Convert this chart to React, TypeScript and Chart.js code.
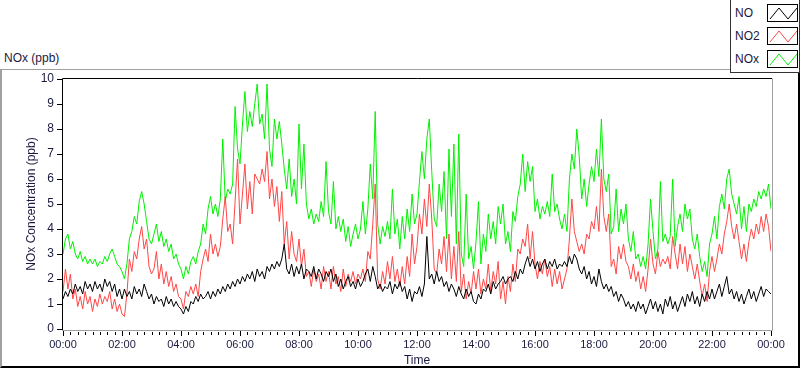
import React, { useEffect, useRef } from 'react';
import { Chart, registerables } from 'chart.js';

Chart.register(...registerables);

// time step between samples, minutes
const stepMinutes = 5;

const xTickLabels = ['00:00', '02:00', '04:00', '06:00', '08:00', '10:00', '12:00', '14:00', '16:00', '18:00', '20:00', '22:00', '00:00'];

const seriesNames = ['NO', 'NO2', 'NOx'];
const seriesColors = ['#000000', '#ff4646', '#00f000'];

// NO (ppb), one value every 5 minutes from 00:00 to 24:00 (one row per hour)
const noValues = [
  1.2, 1.5, 1.3, 1.6, 1.4, 1.8, 1.5, 1.7, 1.4, 1.9, 1.6, 1.8,
  1.5, 1.9, 1.6, 1.8, 1.5, 2.0, 1.7, 1.9, 1.5, 1.8, 1.3, 1.6,
  1.2, 1.6, 1.3, 1.5, 1.2, 1.7, 1.4, 1.6, 1.3, 1.8, 1.5, 1.2,
  1.4, 1.0, 1.3, 1.1, 1.2, 0.9, 1.3, 1.0, 1.2, 0.9, 1.1, 0.9,
  0.8, 0.6, 0.9, 0.7, 1.1, 1.0, 1.3, 1.1, 1.4, 1.2, 1.3, 1.5,
  1.2, 1.5, 1.3, 1.6, 1.4, 1.7, 1.5, 1.8, 1.6, 1.9, 1.7, 2.0,
  1.8, 2.1, 1.9, 2.2, 2.0, 2.3, 1.9, 2.4, 2.1, 2.3, 2.0, 2.5,
  2.3, 2.6, 2.4, 2.7, 2.5, 2.8, 3.4, 2.4, 2.2, 2.6, 2.1, 2.5,
  2.2, 2.6, 2.0, 2.4, 2.3, 2.1, 2.5, 2.0, 2.4, 2.2, 1.9, 2.3,
  2.1, 2.4, 1.9, 2.2, 1.7, 2.0, 1.6, 1.9, 2.1, 1.7, 1.9, 1.6,
  2.0, 1.7, 1.9, 2.2, 2.4, 1.9, 2.5, 2.1, 1.6, 1.8, 1.5, 1.7,
  1.6, 1.9, 1.4, 1.8, 1.6, 1.9, 1.5, 1.7, 1.2, 1.6, 1.1, 1.5,
  1.4, 1.7, 1.3, 1.8, 3.7, 2.0, 2.2, 1.8, 2.3, 1.9, 2.1, 1.7,
  1.9, 1.5, 1.8, 1.6, 1.3, 1.7, 1.4, 1.2, 1.6, 1.3, 1.5, 1.1,
  1.0, 1.4, 1.2, 1.6, 1.5, 1.8, 1.4, 1.9, 1.6, 1.8, 1.9, 2.1,
  1.8, 2.0, 2.1, 1.9, 2.3, 2.0, 2.4, 2.2, 2.6, 2.9, 2.5, 2.8,
  2.4, 2.7, 2.3, 2.6, 2.8, 2.4, 2.7, 2.5, 2.8, 2.4, 2.6, 2.5,
  2.7, 2.5, 2.9, 2.6, 3.0, 2.8, 2.4, 2.2, 2.5, 2.0, 2.3, 1.8,
  2.1, 1.7, 2.4, 1.9, 1.6, 1.8, 1.5, 1.7, 1.3, 1.5, 1.1, 1.4,
  1.2, 0.9, 1.1, 0.8, 1.0, 0.7, 1.1, 0.8, 1.0, 0.6, 0.9, 1.2,
  0.8, 1.1, 0.7, 1.0, 0.6, 1.2, 0.9, 1.3, 0.8, 1.1, 0.7, 1.0,
  1.3, 0.9, 1.4, 1.1, 1.5, 1.0, 1.3, 0.9, 1.4, 1.1, 1.5, 1.2,
  1.6, 1.2, 1.5, 1.8, 1.3, 1.7, 2.1, 1.4, 1.6, 1.2, 1.5, 1.1,
  1.4, 1.0, 1.3, 1.6, 1.2, 1.5, 1.1, 1.4, 1.7, 1.3, 1.6, 1.5,
  1.4,
];

// NO2 (ppb)
const no2Values = [
  1.5, 2.4, 1.6, 2.2, 1.2, 1.6, 0.9, 1.3, 0.8, 1.5, 1.0, 1.3,
  0.7, 1.2, 0.9, 1.4, 1.0, 1.3, 1.1, 1.5, 0.8, 1.2, 0.7, 1.0,
  0.6, 0.5, 1.4, 2.8, 2.3, 3.1, 2.8, 3.6, 4.1, 3.2, 3.6, 2.5,
  2.2, 2.4, 3.1, 2.0, 2.6, 1.8, 2.3, 1.7, 2.1, 1.5, 1.8, 1.3,
  1.2, 0.8, 1.5, 1.3, 1.7, 1.4, 1.8, 1.3, 2.3, 2.8, 3.2, 2.7,
  3.8, 3.0, 3.4, 2.9, 3.3, 4.4, 5.3, 3.9, 4.2, 3.4, 5.1, 6.8,
  4.2, 5.4, 6.6, 4.8, 5.9, 4.6, 6.2, 6.0, 5.8, 6.4, 5.9, 7.1,
  5.2, 6.0, 4.9, 5.7, 4.3, 5.5, 3.4, 4.3, 2.8, 3.9, 3.0, 2.7,
  3.6, 2.5, 3.2, 2.1, 2.3, 1.7, 2.4, 1.9, 2.2, 1.6, 2.5, 1.9,
  2.3, 1.6, 2.5, 1.8, 2.1, 1.5, 2.4, 1.7, 2.2, 1.9, 2.3, 1.8,
  2.2, 2.0, 2.4, 1.9, 3.1, 2.8, 4.2, 5.8, 2.0, 1.6, 2.3, 1.8,
  2.7, 2.0, 2.9, 1.9, 2.4, 1.7, 2.5, 1.8, 2.9, 2.1, 3.8, 2.6,
  3.3, 4.6, 3.8, 5.2, 4.1, 5.8, 4.4, 2.4, 2.2, 3.2, 2.6, 3.7,
  2.3, 3.8, 2.0, 3.3, 1.9, 3.9, 1.5, 2.2, 1.2, 1.9, 1.4, 2.3,
  1.6, 2.4, 1.4, 2.0, 1.6, 2.6, 1.5, 2.3, 1.8, 2.7, 1.2, 1.9,
  1.0, 2.1, 1.5, 2.6, 1.9, 3.2, 3.0, 3.6, 3.3, 4.2, 2.8, 3.9,
  2.6, 2.0, 2.7, 2.2, 2.8, 2.1, 2.5, 1.7, 2.4, 1.8, 2.3, 1.6,
  2.0, 2.4, 3.6, 5.2, 3.9, 3.5, 3.1, 3.4, 3.0, 3.8, 3.6, 4.3,
  4.0, 4.9, 3.9, 6.4, 4.5, 3.9, 4.6, 2.5, 2.8, 2.2, 3.3, 2.8,
  3.4, 2.7, 2.5, 2.0, 2.6, 1.9, 2.3, 1.6, 2.1, 1.5, 2.4, 3.6,
  2.6, 2.2, 3.1, 2.5, 2.8, 2.6, 2.9, 2.4, 3.7, 3.0, 2.4, 3.4,
  2.6, 3.3, 2.3, 3.0, 2.5, 2.0, 2.6, 1.9, 1.3, 1.8, 1.1, 2.3,
  2.9, 2.3, 2.8, 3.4, 3.0, 3.8, 4.3, 5.0, 4.1, 3.6, 4.2, 3.5,
  2.8, 3.4, 2.7, 3.5, 4.0, 3.6, 4.2, 3.8, 4.5, 3.9, 4.6, 4.1,
  3.1,
];

// NOx (ppb)
const noxValues = [
  3.0, 3.6, 3.8, 3.2, 3.5, 3.0, 2.8, 3.1, 2.7, 2.9, 2.6, 2.8,
  2.6, 2.8, 2.5, 2.7, 2.6, 2.9, 2.7, 3.0, 3.2, 2.9, 2.6, 2.5,
  2.3, 2.0, 2.6, 3.6, 3.9, 4.5, 4.2, 5.1, 5.5, 5.0, 4.3, 3.6,
  3.4, 3.8, 4.2, 3.5, 3.9, 3.3, 3.6, 3.1, 3.4, 2.8, 3.0, 2.6,
  2.4, 2.0, 2.5, 2.2, 2.7, 2.9, 2.6, 3.1, 3.4, 4.2, 3.8, 4.8,
  5.3, 4.6, 5.0, 4.5, 5.2, 7.6, 5.1, 5.6, 5.4, 5.8, 8.9, 7.2,
  6.6, 8.2, 9.5, 7.9, 8.7, 8.1, 9.0, 9.8, 8.2, 8.6, 7.6, 9.8,
  7.2, 6.5, 8.4, 7.6, 8.3, 7.4, 6.4, 5.6, 6.8, 5.3, 6.0, 5.0,
  8.2, 5.6, 7.4, 5.0, 4.4, 4.8, 4.2, 4.6, 4.3, 5.1, 4.5, 6.7,
  4.7, 4.2, 5.9, 4.0, 4.5, 3.9, 4.4, 3.5, 4.1, 3.3, 3.8, 4.2,
  3.6, 4.0, 5.1, 3.8, 4.8, 6.6, 5.2, 8.7, 4.2, 3.4, 4.1, 3.7,
  4.3, 3.6, 5.6, 3.8, 4.4, 3.2, 4.5, 3.6, 4.8, 3.9, 5.4, 4.2,
  4.6, 5.9, 7.1, 6.0, 7.6, 8.4, 6.3, 4.4, 4.1, 5.8, 4.7, 6.3,
  3.6, 7.2, 4.5, 7.4, 3.4, 7.8, 3.0, 2.5, 5.4, 2.8, 3.3, 2.4,
  3.5, 5.1, 2.6, 3.8, 3.1, 4.6, 3.6, 4.3, 3.4, 4.9, 4.2, 5.0,
  3.4, 3.9, 3.1, 4.7, 4.3, 5.3, 5.8, 7.0, 5.5, 6.7, 5.9, 6.5,
  4.7, 5.2, 4.4, 4.9, 4.6, 5.1, 4.5, 6.2, 4.7, 5.0, 4.4, 4.0,
  4.6, 3.9, 6.0, 7.0, 6.4, 8.0, 6.9, 5.2, 6.0, 4.9, 5.8, 6.5,
  5.9, 7.2, 6.1, 8.4, 6.0, 5.5, 6.2, 3.8, 4.1, 5.6, 3.9, 4.8,
  4.2, 5.0, 3.6, 3.1, 3.9, 2.8, 3.0, 2.5, 2.9, 2.4, 3.4, 5.2,
  3.9, 2.8, 3.2, 5.9, 3.5, 3.8, 3.4, 3.7, 6.0, 3.3, 4.1, 4.6,
  3.9, 5.0, 4.4, 4.8, 3.6, 3.2, 3.8, 2.9, 2.3, 2.7, 2.1, 3.4,
  3.8, 4.5, 3.6, 4.9, 5.4, 4.8, 6.0, 6.4, 5.4, 5.0, 4.6, 5.3,
  4.0, 4.9, 3.9, 5.0, 4.7, 5.2, 4.9, 5.5, 5.2, 5.6, 5.3, 5.8,
  4.8,
];

const seriesValues = [noValues, no2Values, noxValues];

const textColor = '#1a1a40';
const fontFamily = 'Liberation Sans, Arial, sans-serif';

const framePlugin = {
  id: 'labviewFrame',
  afterDraw(chart: any) {
    const { ctx, chartArea: a, scales } = chart;
    const x = scales.x;
    ctx.save();
    ctx.lineWidth = 1;
    // x-axis ticks: major every 2 h, minor every 15 min
    ctx.strokeStyle = '#000';
    for (let m = 0; m <= 1440; m += 15) {
      const px = Math.round(x.getPixelForValue(m)) + 0.5;
      const major = m % 120 === 0;
      ctx.beginPath();
      ctx.moveTo(px, a.bottom + (major ? 2 : 3));
      ctx.lineTo(px, a.bottom + (major ? 7 : 6));
      ctx.stroke();
    }
    // plot frame: dark top/left, grey bottom/right
    ctx.strokeStyle = '#000';
    ctx.beginPath();
    ctx.moveTo(a.left - 0.5, a.bottom + 1);
    ctx.lineTo(a.left - 0.5, a.top - 0.5);
    ctx.lineTo(a.right + 1, a.top - 0.5);
    ctx.stroke();
    ctx.strokeStyle = '#a0a0a0';
    ctx.beginPath();
    ctx.moveTo(a.right + 1.5, a.top - 0.5);
    ctx.lineTo(a.right + 1.5, a.bottom + 1.5);
    ctx.lineTo(a.left - 1, a.bottom + 1.5);
    ctx.stroke();
    ctx.restore();
  },
};

function LegendSample({ color }: { color: string }) {
  return (
    <svg width={31} height={18} style={{ display: 'block', border: '1px solid #000', boxSizing: 'border-box', background: '#fff' }}>
      <polyline points="2,14 11,3 20,14 29,3" fill="none" stroke={color} strokeWidth={1} />
    </svg>
  );
}

export default function App() {
  const canvasRef = useRef<HTMLCanvasElement | null>(null);

  useEffect(() => {
    const canvas = canvasRef.current;
    if (!canvas) return;
    const datasets = seriesNames.map((name, i) => ({
      label: name,
      data: seriesValues[i].map((v, k) => ({ x: k * stepMinutes, y: v })),
      borderColor: seriesColors[i],
      backgroundColor: seriesColors[i],
      borderWidth: 1,
      pointRadius: 0,
      tension: 0,
      fill: false,
    }));
    const chart = new Chart(canvas, {
      type: 'line',
      data: { datasets },
      options: {
        animation: false,
        responsive: false,
        devicePixelRatio: 1,
        layout: { padding: { left: 0, top: 79, right: 29, bottom: 0 } },
        plugins: { legend: { display: false }, tooltip: { enabled: false } },
        scales: {
          x: {
            type: 'linear',
            min: 0,
            max: 1440,
            afterFit: (s: any) => { s.height = 40; },
            grid: { display: false, drawTicks: true, tickLength: 6 },
            border: { display: false },
            ticks: {
              stepSize: 120,
              autoSkip: false,
              maxRotation: 0,
              padding: 3,
              color: textColor,
              font: { family: fontFamily, size: 11 },
              callback: (v: any) => xTickLabels[Math.round(Number(v) / 120)] ?? '',
            },
            title: {
              display: true,
              text: 'Time',
              color: textColor,
              font: { family: fontFamily, size: 12 },
              padding: { top: 0, bottom: 1 },
            },
          },
          y: {
            type: 'linear',
            min: 0,
            max: 10,
            afterFit: (s: any) => { s.width = 63; },
            grid: { display: true, drawOnChartArea: false, drawTicks: true, tickLength: 6, color: '#000' },
            border: { display: false },
            ticks: {
              stepSize: 1,
              padding: 3,
              color: textColor,
              font: { family: fontFamily, size: 12 },
            },
            title: {
              display: true,
              text: 'NOx Concentration (ppb)',
              color: textColor,
              font: { family: fontFamily, size: 12 },
              padding: { top: 24, bottom: 0 },
            },
          },
        },
      },
      plugins: [framePlugin],
    });
    return () => chart.destroy();
  }, []);

  return (
    <div style={{ position: 'fixed', left: 0, top: 0, width: 800, height: 369, background: '#fff', overflow: 'hidden', fontFamily }}>
      <div style={{ position: 'absolute', left: 0, top: 69, width: 800, height: 299, boxSizing: 'border-box', borderTop: '1px solid #a0a0a0', borderLeft: '2px solid #a0a0a0', borderRight: '2px solid #000', borderBottom: '2px solid #000' }} />
      <div style={{ position: 'absolute', left: 4, top: 51, fontSize: 12, lineHeight: '14px', color: textColor }}>NOx (ppb)</div>
      <canvas ref={canvasRef} width={800} height={369} style={{ position: 'absolute', left: 0, top: 0, width: 800, height: 369 }} />
      <div style={{ position: 'absolute', left: 730, top: -1, width: 70, height: 74, boxSizing: 'border-box', border: '1px solid #333', background: '#fff' }}>
        {seriesNames.map((name, i) => (
          <div key={name} style={{ position: 'absolute', left: 0, top: [4, 27, 50][i], width: 68, height: 18 }}>
            <span style={{ position: 'absolute', left: 4, top: 2, fontSize: 12, lineHeight: '14px', color: textColor }}>{name}</span>
            <div style={{ position: 'absolute', left: 36, top: 0 }}>
              <LegendSample color={seriesColors[i]} />
            </div>
          </div>
        ))}
      </div>
    </div>
  );
}
